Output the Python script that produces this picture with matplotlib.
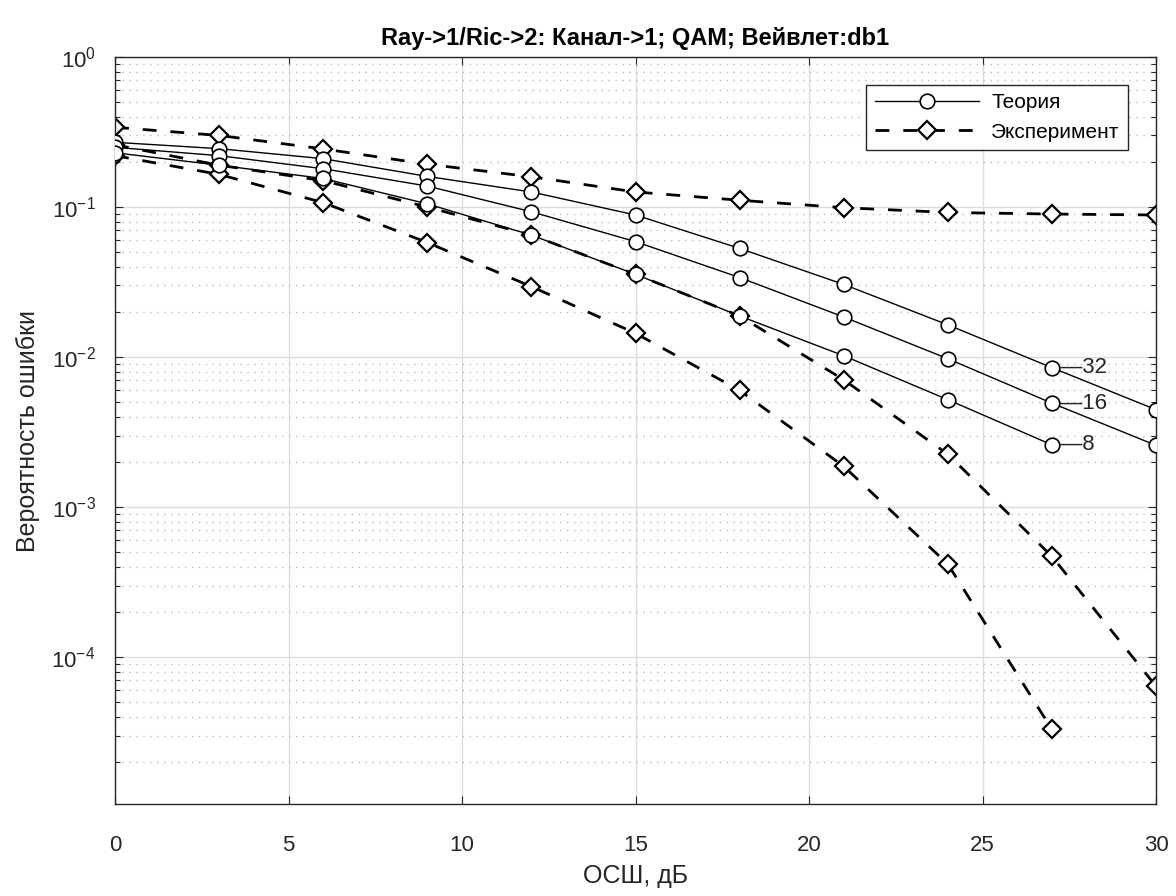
import numpy as np
import matplotlib.pyplot as plt
from matplotlib.ticker import LogLocator, NullFormatter, MultipleLocator

plt.rcParams['font.family'] = ['Liberation Sans', 'DejaVu Sans']

# SNR grid, dB
snr = [0, 3, 6, 9, 12, 15, 18, 21, 24, 27, 30]

# theoretical SER for M-QAM
ber_th_32 = [0.27, 0.245, 0.21, 0.16, 0.126, 0.0885, 0.053, 0.0305, 0.0164, 0.0085, 0.00446]
ber_th_16 = [0.25, 0.22, 0.18, 0.138, 0.093, 0.0588, 0.0339, 0.0185, 0.00975, 0.00493, 0.00258]
ber_th_8 = [0.23, 0.19, 0.155, 0.105, 0.065, 0.0356, 0.0188, 0.0102, 0.0052, 0.0026]

# simulated (wavelet db1) results
ber_ex_32 = [0.34, 0.30, 0.244, 0.193, 0.159, 0.126, 0.111, 0.099, 0.092, 0.0898, 0.0885]
ber_ex_16 = [0.26, 0.19, 0.15, 0.10, 0.065, 0.0356, 0.0188, 0.00706, 0.00225, 4.7e-4, 6.4e-5]
ber_ex_8 = [0.22, 0.165, 0.107, 0.058, 0.0295, 0.0144, 0.006, 0.00187, 4.17e-4, 3.3e-5]

orders = ['32', '16', '8']

fig = plt.figure(figsize=(11.76, 8.96), dpi=100)
ax = fig.add_axes([115 / 1176, 1 - 804 / 896, 1041 / 1176, 747 / 896])

th_style = dict(color='black', lw=1.0, marker='o', ms=10.5, mfc='white',
                mec='black', mew=1.2)
ex_style = dict(color='black', lw=2.0, dashes=(5, 5), marker='D', ms=9.5,
                mfc='white', mec='black', mew=1.6)

th_series = [ber_th_32, ber_th_16, ber_th_8]
ex_series = [ber_ex_32, ber_ex_16, ber_ex_8]

for i, y in enumerate(th_series):
    ax.semilogy(snr[:len(y)], y, label='Теория' if i == 0 else None,
                zorder=3, **th_style)
for i, y in enumerate(ex_series):
    ax.semilogy(snr[:len(y)], y, label='Эксперимент' if i == 0 else None,
                zorder=2, **ex_style)

# order labels next to the 27 dB points
for name, y in zip(orders, th_series):
    ax.text(27.22, y[9], '—' + name, fontsize=16, color='#262626',
            ha='left', va='center', zorder=4)

ax.set_xlim(0, 30)
ax.set_ylim(1.05e-5, 1)
ax.xaxis.set_major_locator(MultipleLocator(5))
ax.yaxis.set_major_locator(LogLocator(base=10, numticks=10))
ax.yaxis.set_minor_locator(LogLocator(base=10, subs=np.arange(2, 10), numticks=10))
ax.yaxis.set_minor_formatter(NullFormatter())

ax.grid(True, which='major', color='#dcdcdc', lw=1.0, ls='-')
ax.grid(True, which='minor', axis='y', color='#bdbdbd', lw=1.0, ls=(0, (1, 4)))
ax.set_axisbelow(True)

ax.tick_params(which='both', direction='in', top=True, right=True,
               colors='#262626', labelsize=16)
ax.tick_params(which='major', length=6, width=0.8)
ax.tick_params(which='minor', length=3.5, width=0.8)
ax.tick_params(axis='x', pad=22)
ax.tick_params(axis='y', pad=14)
for sp in ax.spines.values():
    sp.set_color('#262626')
    sp.set_linewidth(1.0)

ax.set_xlabel('ОСШ, дБ', fontsize=18, color='#262626', labelpad=6)
ax.set_ylabel('Вероятность ошибки', fontsize=18, color='#262626', labelpad=8)
ax.set_title('Ray->1/Ric->2: Канал->1; QAM; Вейвлет:db1', fontsize=17,
             fontweight='bold', color='black', pad=9)

leg = ax.legend(loc='upper right', bbox_to_anchor=(0.973, 0.9625),
                borderaxespad=0, fontsize=15, handlelength=5.0,
                handletextpad=0.6, fancybox=False, framealpha=1,
                edgecolor='#262626')
leg.get_frame().set_linewidth(1.0)

fig.savefig('out.png', dpi=100)
plt.close()
